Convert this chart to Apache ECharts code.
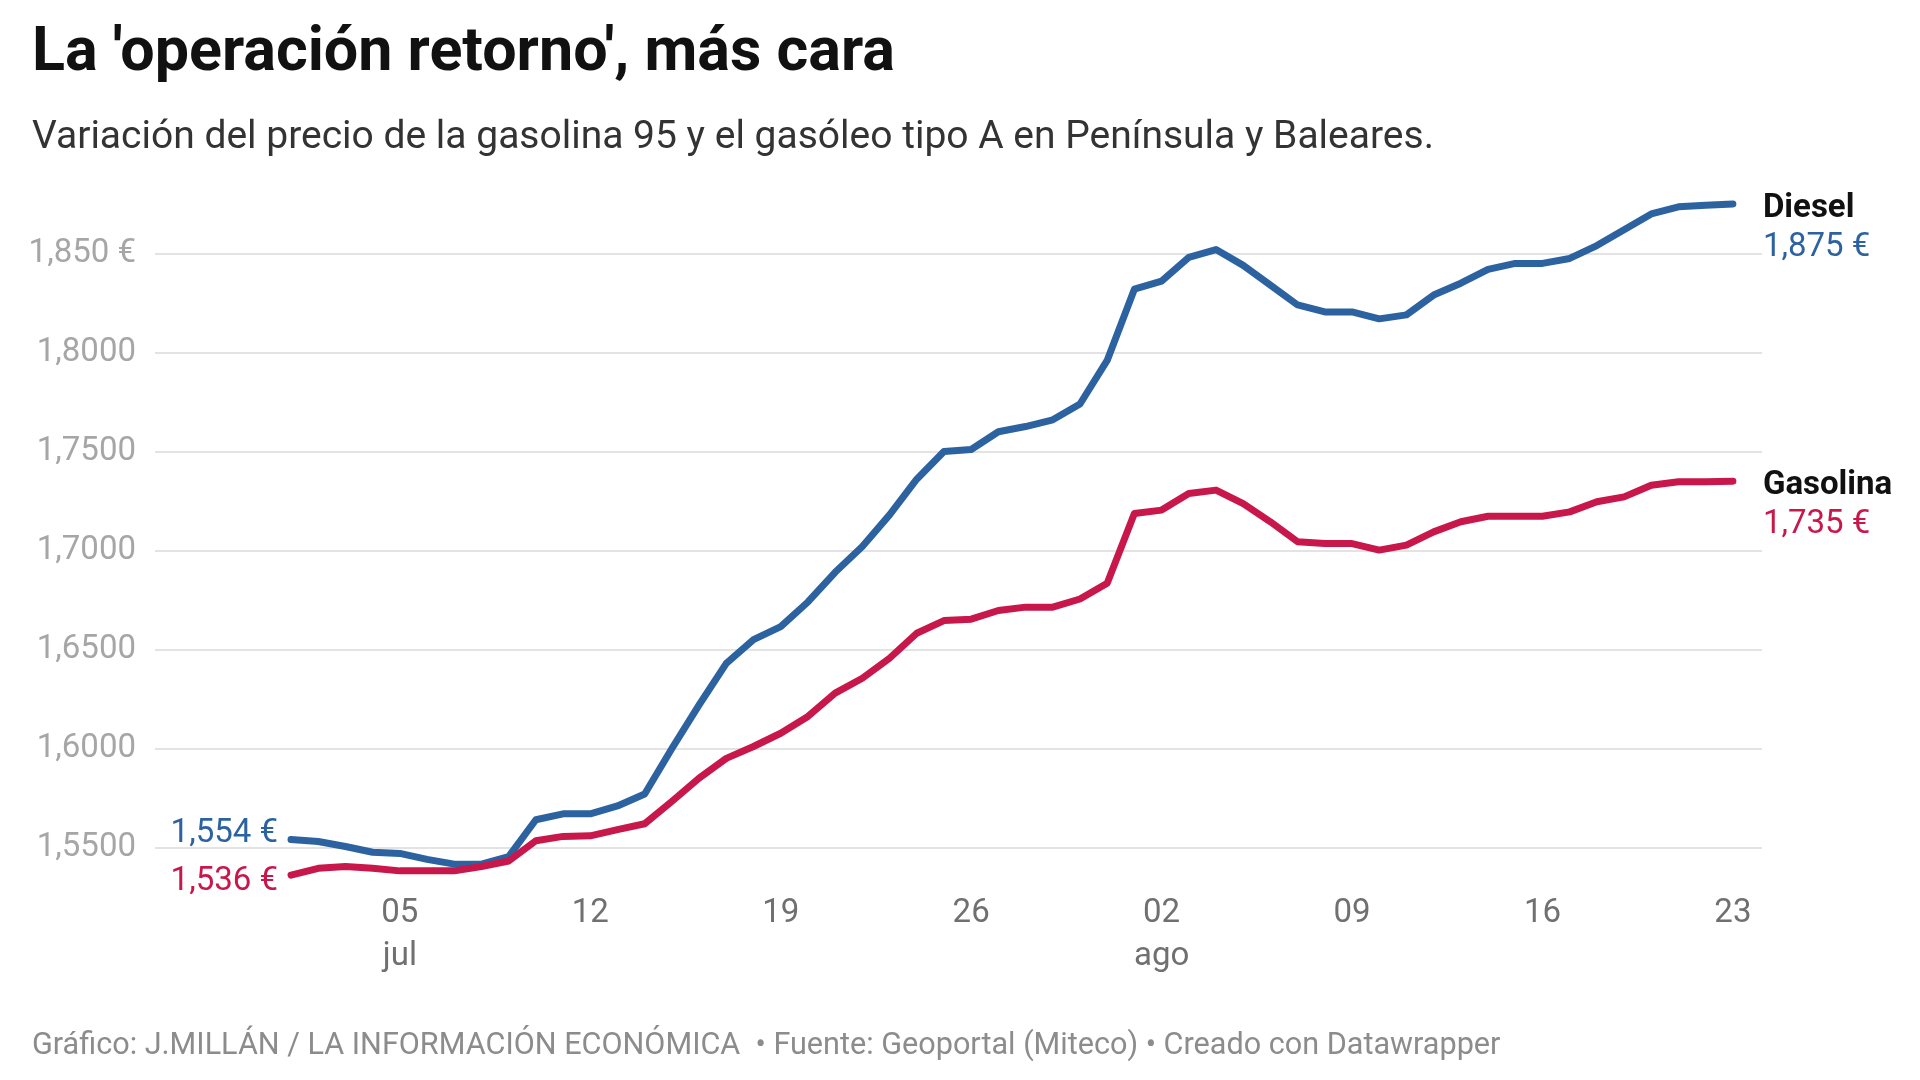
<!DOCTYPE html>
<html lang="es">
<head>
<meta charset="utf-8">
<title>La 'operación retorno', más cara</title>
<script src="https://cdn.jsdelivr.net/npm/echarts@6/dist/echarts.min.js"></script>
<style>
  html, body { margin: 0; padding: 0; background: #fff; }
  #grafico { width: 1920px; height: 1080px; }
</style>
</head>
<body>
<div id="grafico"></div>
<script>
// fechas (1 jul - 23 ago), una por dia
var fechas = [
  '01/07','02/07','03/07','04/07','05/07','06/07','07/07','08/07','09/07','10/07',
  '11/07','12/07','13/07','14/07','15/07','16/07','17/07','18/07','19/07','20/07',
  '21/07','22/07','23/07','24/07','25/07','26/07','27/07','28/07','29/07','30/07',
  '31/07','01/08','02/08','03/08','04/08','05/08','06/08','07/08','08/08','09/08',
  '10/08','11/08','12/08','13/08','14/08','15/08','16/08','17/08','18/08','19/08',
  '20/08','21/08','22/08','23/08'
];

// precio medio diario, euros/litro
var diesel = [
  1.554, 1.553, 1.5505, 1.5476, 1.547, 1.544, 1.5416, 1.5416, 1.5454, 1.564,
  1.567, 1.567, 1.571, 1.577, 1.600, 1.622, 1.643, 1.655, 1.6616, 1.674,
  1.689, 1.702, 1.718, 1.736, 1.750, 1.751, 1.760, 1.7626, 1.766, 1.774,
  1.796, 1.832, 1.836, 1.848, 1.852, 1.844, 1.834, 1.824, 1.8205, 1.8205,
  1.817, 1.819, 1.829, 1.835, 1.842, 1.845, 1.845, 1.8475, 1.854, 1.862,
  1.870, 1.8736, 1.8744, 1.875
];
var gasolina = [
  1.536, 1.5395, 1.5404, 1.5395, 1.5382, 1.5382, 1.5382, 1.5404, 1.5432, 1.5534,
  1.5556, 1.5559, 1.559, 1.562, 1.5733, 1.585, 1.595, 1.601, 1.6077, 1.6162,
  1.628, 1.6355, 1.6456, 1.6582, 1.6646, 1.6653, 1.6697, 1.6714, 1.6714, 1.6755,
  1.6835, 1.7187, 1.7204, 1.7288, 1.7305, 1.7237, 1.7145, 1.7044, 1.7035, 1.7035,
  1.7002, 1.7027, 1.7094, 1.7145, 1.7173, 1.7173, 1.7173, 1.7195, 1.7246, 1.7271,
  1.733, 1.7347, 1.7347, 1.735
];

// etiquetas de los ejes
var xTickFechas = ['05/07','12/07','19/07','26/07','02/08','09/08','16/08','23/08'];
var xTickLabels = ['05\njul','12','19','26','02\nago','09','16','23'];
var yTickValues = [1.55, 1.60, 1.65, 1.70, 1.75, 1.80, 1.85];
var yTickLabels = ['1,5500','1,6000','1,6500','1,7000','1,7500','1,8000','1,850 €'];

var AZUL = '#2c62a0';
var ROJO = '#c8174b';
var FUENTE = 'Roboto, "Noto Sans", sans-serif';

function euros(v) {
  return v.toFixed(3).replace('.', ',') + ' €';
}

// recorre un array (como $.each)
function $each(arr, fn) {
  for (var i = 0; i < arr.length; i++) fn(i, arr[i]);
}

function serie(nombre, valores, color, offsetInicio) {
  var datos = [];
  $each(valores, function(i, v) {
    var punto = { value: [i, v] };
    if (i == 0) {
      punto.label = {
        show: true,
        position: 'left',
        distance: 13,
        offset: [0, offsetInicio],
        formatter: euros(v),
        color: color,
        fontFamily: FUENTE,
        fontSize: 33
      };
    }
    datos.push(punto);
  });
  return {
    name: nombre,
    type: 'line',
    data: datos,
    symbol: 'circle',
    symbolSize: 0,
    showSymbol: true,
    showAllSymbol: true,
    smooth: false,
    lineStyle: { color: color, width: 7, cap: 'round', join: 'round' },
    itemStyle: { color: color },
    emphasis: { disabled: true },
    endLabel: {
      show: true,
      distance: 30,
      offset: [0, 24],
      formatter: function(p) {
        return '{n|' + nombre + '}\n{v|' + euros(p.value[1]) + '}';
      },
      rich: {
        n: { fontFamily: FUENTE, fontSize: 33, fontWeight: 'bold', color: '#111', lineHeight: 39 },
        v: { fontFamily: FUENTE, fontSize: 33, color: color, lineHeight: 39 }
      }
    }
  };
}

var xTicks = [];
$each(xTickFechas, function(i, f) { xTicks.push(fechas.indexOf(f)); });

var chart = echarts.init(document.getElementById('grafico'), null, { renderer: 'canvas' });
var option = {
  backgroundColor: '#fff',
  animation: false,
  textStyle: { fontFamily: FUENTE },
  title: [{
    text: "La 'operación retorno', más cara",
    left: 27,
    top: 19,
    textStyle: { fontFamily: FUENTE, fontSize: 61, fontWeight: 'bold', color: '#111', lineHeight: 61 }
  }, {
    text: 'Variación del precio de la gasolina 95 y el gasóleo tipo A en Península y Baleares.',
    left: 27,
    top: 114,
    textStyle: { fontFamily: FUENTE, fontSize: 39, fontWeight: 'normal', color: '#333', lineHeight: 39 }
  }, {
    text: 'Gráfico: J.MILLÁN / LA INFORMACIÓN ECONÓMICA  • Fuente: Geoportal (Miteco) • Creado con Datawrapper',
    left: 27,
    top: 1026,
    textStyle: { fontFamily: FUENTE, fontSize: 30.6, fontWeight: 'normal', color: '#8c8c8c', lineHeight: 31 }
  }],
  grid: { left: 155, right: 158, top: 154.5, bottom: 133.5, containLabel: false },
  xAxis: {
    type: 'value',
    min: -5,
    max: 54.07,
    axisLine: { show: false },
    axisTick: { show: false },
    splitLine: { show: false },
    axisLabel: {
      customValues: xTicks,
      margin: -54,
      fontFamily: FUENTE,
      fontSize: 33,
      lineHeight: 43,
      color: '#707070',
      formatter: function(v) {
        var k = xTicks.indexOf(Math.round(v));
        return k < 0 ? '' : xTickLabels[k];
      }
    }
  },
  yAxis: {
    type: 'value',
    min: 1.5,
    max: 1.9,
    interval: 0.05,
    axisLine: { show: false },
    axisTick: { show: false },
    splitLine: {
      show: true,
      showMinLine: false,
      showMaxLine: false,
      lineStyle: { color: '#e3e3e3', width: 2 }
    },
    axisLabel: {
      margin: 19,
      padding: [4, 0, 0, 0],
      fontFamily: FUENTE,
      fontSize: 33,
      color: '#a6a6a6',
      formatter: function(v) {
        for (var i = 0; i < yTickValues.length; i++) {
          if (Math.abs(yTickValues[i] - v) < 1e-6) return yTickLabels[i];
        }
        return '';
      }
    }
  },
  series: [
    serie('Diesel', diesel, AZUL, -6),
    serie('Gasolina', gasolina, ROJO, 7)
  ]
};
chart.setOption(option);
</script>
</body>
</html>
